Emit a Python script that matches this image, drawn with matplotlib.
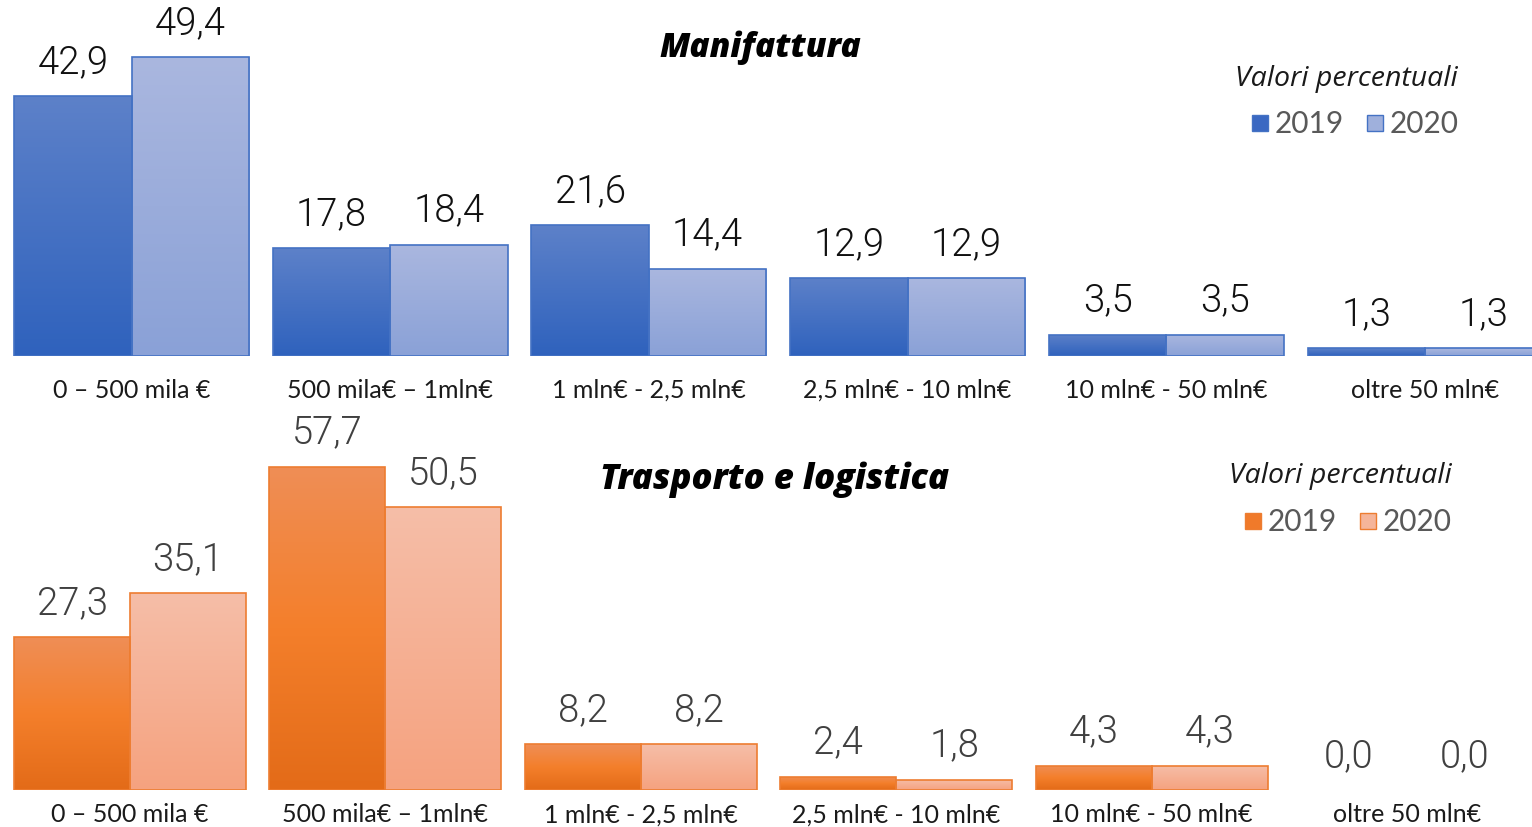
import numpy as np
import matplotlib
matplotlib.use("Agg")
import matplotlib.pyplot as plt
from matplotlib.patches import Rectangle
from matplotlib.colors import LinearSegmentedColormap

plt.rcParams['font.family'] = ['Lato', 'DejaVu Sans']

categories = ["0 – 500 mila €", "500 mila€ – 1mln€", "1 mln€ - 2,5 mln€",
              "2,5 mln€ - 10 mln€", "10 mln€ - 50 mln€", "oltre 50 mln€"]
years = ["2019", "2020"]
manif_2019 = [42.9, 17.8, 21.6, 12.9, 3.5, 1.3]
manif_2020 = [49.4, 18.4, 14.4, 12.9, 3.5, 1.3]
trasp_2019 = [27.3, 57.7, 8.2, 2.4, 4.3, 0.0]
trasp_2020 = [35.1, 50.5, 8.2, 1.8, 4.3, 0.0]

W, H = 1532, 828
fig = plt.figure(figsize=(W / 100, H / 100), dpi=100)


def fmt(v):
    return f"{v:.1f}".replace('.', ',')


def gradient_bars(ax, bars, colors):
    cmap = LinearSegmentedColormap.from_list("g", colors)
    grad = np.linspace(0, 1, 256).reshape(-1, 1)
    for b in bars:
        h = b.get_height()
        if h <= 0:
            b.set_linewidth(0)
            continue
        x0 = b.get_x()
        w = b.get_width()
        im = ax.imshow(grad, cmap=cmap, aspect='auto', origin='upper',
                       extent=(x0, x0 + w, 0, h), zorder=1,
                       interpolation='bilinear')
        im.set_clip_path(b)


def panel(base_px, scale, center0, pitch, v19, v20, grad19, grad20, edge,
          labcol, title, title_size, title_xy, note_xy, leg, cat_off):
    ymax = 64
    height_px = ymax * scale
    ax = fig.add_axes([0, (H - base_px) / H, 1, height_px / H])
    ax.set_xlim(-center0 / pitch, (W - center0) / pitch)
    ax.set_ylim(0, ymax)
    ax.axis('off')
    x = np.arange(len(categories))
    bw = 0.454
    b19 = ax.bar(x - bw / 2, v19, bw, facecolor='none', edgecolor=edge,
                 linewidth=1.2, zorder=2)
    b20 = ax.bar(x + bw / 2, v20, bw, facecolor='none', edgecolor=edge,
                 linewidth=1.2, zorder=2)
    gradient_bars(ax, b19, grad19)
    gradient_bars(ax, b20, grad20)
    for bars, vals in ((b19, v19), (b20, v20)):
        for b, v in zip(bars, vals):
            ax.annotate(fmt(v), (b.get_x() + b.get_width() / 2, v),
                        xytext=(0, 35), textcoords='offset pixels',
                        ha='center', va='center', fontsize=27.5,
                        fontweight=300, color=labcol, zorder=5,
                        family=['Roboto', 'Lato', 'DejaVu Sans'])
    for xi, c in zip(x, categories):
        ax.annotate(c, (xi, 0), xytext=(0, -cat_off), textcoords='offset pixels',
                    ha='center', va='center', fontsize=18, color='#1a1a1a')
    fig.text(title_xy[0] / W, 1 - title_xy[1] / H, title, ha='center',
             va='center', fontsize=title_size, fontweight='heavy',
             fontstyle='italic', color='black',
             family=['Open Sans', 'DejaVu Sans'])
    fig.text(note_xy[0] / W, 1 - note_xy[1] / H, "Valori percentuali",
             ha='center', va='center', fontsize=20.5, fontstyle='italic',
             color='#1a1a1a', family=['Open Sans', 'DejaVu Sans'])
    (sq1x, sq2x, ly), cols = leg
    for sx, yr, col in ((sq1x, years[0], cols[0]), (sq2x, years[1], cols[1])):
        fig.patches.append(Rectangle((sx / W, 1 - (ly + 8) / H), 16 / W, 16 / H,
                                     transform=fig.transFigure,
                                     facecolor=col, edgecolor=edge,
                                     linewidth=1.0))
        fig.text((sx + 23) / W, 1 - ly / H, yr, ha='left', va='center',
                 fontsize=21.5, color='#595959')
    return ax


panel(357, 6.05, 131.5, 258.7, manif_2019, manif_2020,
      ['#5D81C9', '#2F62BD'], ['#AAB7DF', '#8AA1D7'], '#4472C4', '#111111',
      "Manifattura", 24, (760, 48), (1346, 79),
      ((1252, 1367, 124), ('#3A68C2', '#9FB0DC')), 33)

panel(791, 5.6, 130, 255.4, trasp_2019, trasp_2020,
      ['#EF8E56', '#F47F2B', '#E36B18'], ['#F6BEA8', '#F5A27F'], '#ED7D31',
      '#404040',
      "Trasporto e logistica", 25, (775, 480), (1340, 476),
      ((1245, 1360, 522), ('#F07A2A', '#F5B59A')), 24)

fig.savefig("out.png", dpi=100, facecolor='white')
